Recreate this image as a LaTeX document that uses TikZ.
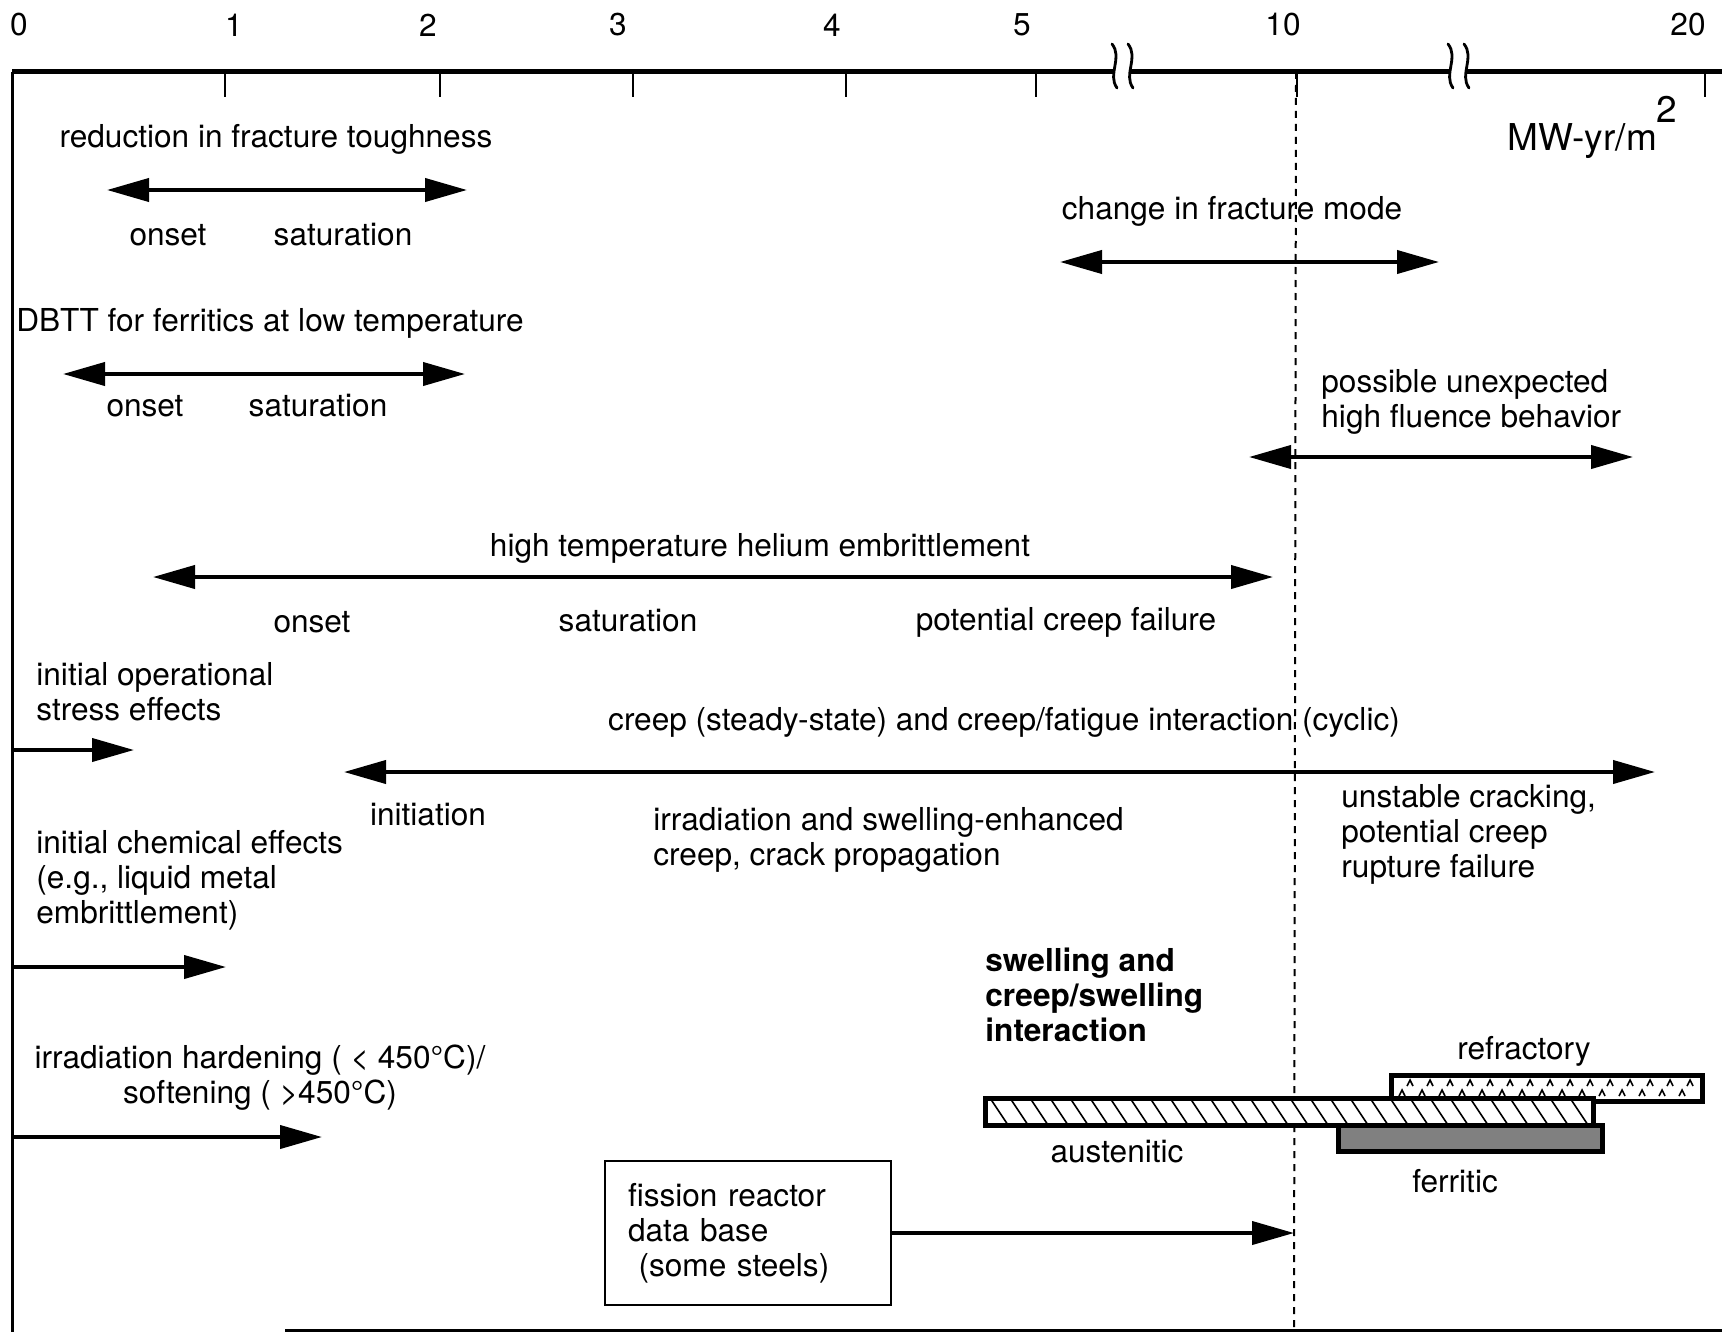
\documentclass[tikz,border=0pt]{standalone}
\usepackage{fontspec}
\setmainfont{TeX Gyre Heros}
\usetikzlibrary{arrows.meta}

\begin{document}
\begin{tikzpicture}[x=0.5pt,y=0.5pt,yscale=-1,xscale=1,
  every node/.style={font=\fontsize{15.8}{17.5}\selectfont, inner sep=0pt},
  span/.style={line width=2pt, {Triangle[length=21pt,width=11.5pt]}-{Triangle[length=21pt,width=11.5pt]}},
  reach/.style={line width=2pt, -{Triangle[length=21pt,width=11.5pt]}},
  bar/.style={line width=2.5pt},
  wave/.style={line width=1.4pt, line cap=round}]
\useasboundingbox (0,0) rectangle (1722,1332);

%Frame and axis
\draw [line width=2.5pt] (12,72) -- (1722,72) ;
\draw [line width=1.5pt] (12,72) -- (12,1332) ;
\draw [line width=1.5pt] (285,1330) -- (1722,1330) ;
\foreach \t in {225,440,633,846,1036,1297,1705}
  \draw [line width=1pt] (\t,72) -- (\t,97) ;
%Axis breaks
\foreach \b in {1115,1451} {
  \fill [white] (\b,64) rectangle (\b+16,81) ;
  \draw [wave] (\b-3,44) .. controls (\b+8,58) and (\b-8,74) .. (\b+2,88) ;
  \draw [wave] (\b+13,44) .. controls (\b+24,58) and (\b+8,74) .. (\b+18,88) ;
}
%Dashed line at 10
\draw [line width=1pt, dash pattern={on 3.5pt off 3pt}] (1296,72) -- (1294,1332) ;

% Text Node
\node (l0) at (19,25) {0};
\node (l1) at (234,25) {1};
\node (l2) at (428,25) {2};
\node (l3) at (618,25) {3};
\node (l4) at (832,25) {4};
\node (l5) at (1022,25) {5};
\node (l10) at (1283,25) {10};
\node (l20) at (1688,25) {20};
\node [anchor=base west, font=\fontsize{18.5}{20}\selectfont] (unit) at (1507,151) {MW-yr/m\raisebox{0.77em}{2}};

%Fracture toughness
\node (toughness) at (276,139) {reduction in fracture toughness};
\coordinate (tough-a) at (107,190);
\coordinate (tough-b) at (467,190);
\draw [span] (tough-a) -- (tough-b) ;
\node (tough-on) at (168,235) {onset};
\node (tough-sat) at (343,235) {saturation};

%DBTT
\node (dbtt) at (270,323) {DBTT for ferritics at low temperature};
\coordinate (dbtt-a) at (63,374);
\coordinate (dbtt-b) at (465,374);
\draw [span] (dbtt-a) -- (dbtt-b) ;
\node (dbtt-on) at (145,406) {onset};
\node (dbtt-sat) at (318,406) {saturation};

%Fracture mode
\node (mode) at (1232,211) {change in fracture mode};
\coordinate (mode-a) at (1060,262);
\coordinate (mode-b) at (1439,262);
\draw [span] (mode-a) -- (mode-b) ;

%High fluence
\node [anchor=west, align=left] (fluence) at (1321,402) {possible unexpected\\high fluence behavior};
\coordinate (flu-a) at (1249,457);
\coordinate (flu-b) at (1633,457);
\draw [span] (flu-a) -- (flu-b) ;

%Helium embrittlement
\node (helium) at (760,548) {high temperature helium embrittlement};
\coordinate (he-a) at (153,577);
\coordinate (he-b) at (1273,577);
\draw [span] (he-a) -- (he-b) ;
\node (he-on) at (312,622) {onset};
\node (he-sat) at (628,621) {saturation};
\node (he-fail) at (1066,622) {potential creep failure};

%Operational stress
\node [anchor=west, align=left] (stress) at (36,692) {initial operational\\stress effects};
\coordinate (stress-a) at (12,750);
\coordinate (stress-b) at (134,750);
\draw [reach] (stress-a) -- (stress-b) ;

%Creep
\node (creep) at (1004,722) {creep (steady-state) and creep/fatigue interaction (cyclic)};
\coordinate (creep-a) at (344,772);
\coordinate (creep-b) at (1655,772);
\draw [span] (creep-a) -- (creep-b) ;
\node (creep-init) at (428,815) {initiation};
\node [anchor=west, align=left] (creep-mid) at (653,840) {irradiation and swelling-enhanced\\creep, crack propagation};
\node [anchor=west, align=left] (creep-end) at (1341,834) {unstable cracking,\\potential creep\\rupture failure};

%Chemical effects
\node [anchor=west, align=left] (chem) at (36,880) {initial chemical effects\\(e.g., liquid metal\\embrittlement)};
\coordinate (chem-a) at (12,967);
\coordinate (chem-b) at (226,967);
\draw [reach] (chem-a) -- (chem-b) ;

%Hardening
\node [align=center] (hard) at (260,1078) {irradiation hardening ( < 450°C)/\\softening ( >450°C)};
\coordinate (hard-a) at (12,1137);
\coordinate (hard-b) at (322,1137);
\draw [reach] (hard-a) -- (hard-b) ;

%Swelling
\node [anchor=west, align=left, font=\fontsize{15.8}{17.5}\selectfont\bfseries] (swell) at (985,995) {swelling and\\creep/swelling\\interaction};
\node (refr) at (1524,1051) {refractory};
\node (aust) at (1117,1152) {austenitic};
\node (ferr) at (1455,1181) {ferritic};

%Refractory bar
\draw [bar, fill=white] (1391,1075) rectangle (1702,1101) ;
\foreach \x in {1410,1430,...,1690}
  \draw [line width=0.8pt] (\x-3,1086) -- (\x,1080) -- (\x+3,1086) ;
\foreach \x in {1402,1422,...,1682}
  \draw [line width=0.8pt] (\x-3,1096) -- (\x,1090) -- (\x+3,1096) ;
%Ferritic bar
\draw [bar, fill=black!50] (1338,1125) rectangle (1602,1151) ;
%Austenitic bar
\draw [bar, fill=white] (985,1098) rectangle (1593,1125) ;
\begin{scope}
\clip (985,1098) rectangle (1593,1125) ;
\foreach \x in {970,990,...,1590}
  \draw [line width=0.8pt] (\x,1098) -- (\x+18,1125) ;
\end{scope}
\draw [bar] (985,1098) rectangle (1593,1125) ;

%Fission reactor data base
\node [draw, line width=1.2pt, minimum width=143pt, minimum height=72pt, text width=120pt, align=left] (fission) at (748,1233) {fission reactor\\data base\\\ (some steels)};
\coordinate (fission-end) at (1294,1233);
\draw [reach] (fission) -- (fission-end) ;

\end{tikzpicture}
\end{document}
